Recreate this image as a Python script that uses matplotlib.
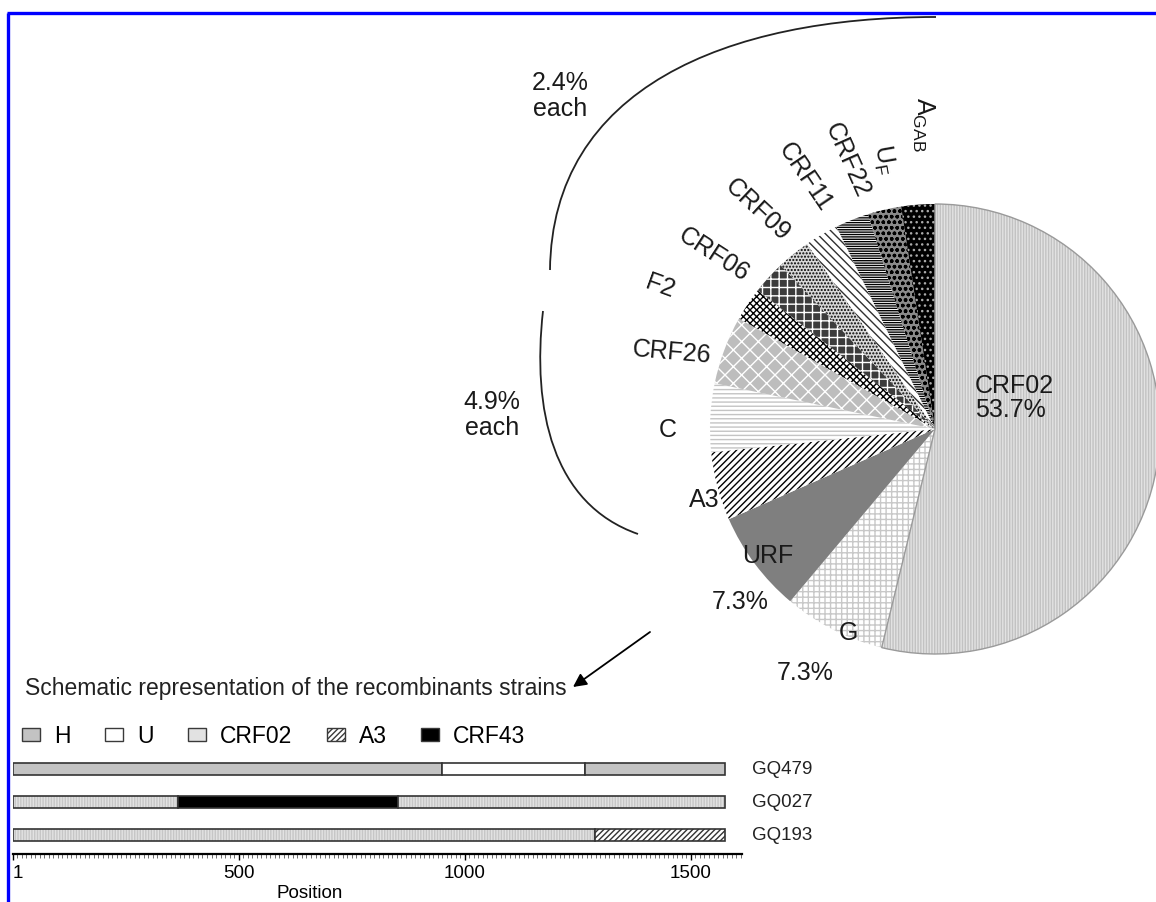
import matplotlib
matplotlib.use("Agg")
import matplotlib.pyplot as plt
from matplotlib.patches import Patch, PathPatch
from matplotlib.path import Path
from matplotlib.ticker import MultipleLocator
import matplotlib.transforms as mtransforms

plt.rcParams['font.family'] = ['Liberation Sans', 'DejaVu Sans']
plt.rcParams['hatch.linewidth'] = 1.0

# ---------------- data ----------------
pie_labels = ['CRF02', 'G', 'URF', 'A3', 'C', 'CRF26', 'F2', 'CRF06',
              'CRF09', 'CRF11', 'CRF22', 'UF', 'AGAB']
pie_values = [53.7, 7.3, 7.3, 4.9, 4.9, 4.9, 2.4, 2.4, 2.4, 2.4, 2.4, 2.4, 2.4]

strains = ['GQ479', 'GQ027', 'GQ193']
gq479_breaks = [1, 950, 1266, 1575]
gq479_types = ['H', 'U', 'H']
gq027_breaks = [1, 366, 852, 1575]
gq027_types = ['CRF02', 'CRF43', 'CRF02']
gq193_breaks = [1, 1288, 1575]
gq193_types = ['CRF02', 'A3']
legend_types = ['H', 'U', 'CRF02', 'A3', 'CRF43']
position_ticks = [1, 500, 1000, 1500]
position_ticklabels = ['1', '500', '1000', '1500']

# ---------------- styles ----------------
pie_face = ['#e2e2e2', 'white', '#7f7f7f', 'white', 'white', '#bdbdbd', 'white',
            '#3c3c3c', '#d8d8d8', 'white', 'white', '#8a8a8a', 'black']
pie_hatchcol = ['#c2c2c2', '#c8c8c8', '#7f7f7f', 'black', '#c4c4c4', 'white', 'black',
                'white', 'black', '#303030', 'black', 'black', '#aaaaaa']
pie_hatch = ['||||||', '+++', None, '/////', '----', 'xx', 'xxxxx',
             '++', '.....', '\\\\\\\\', '-------', 'ooo', '...']

seg_face = {'H': '#c3c3c3', 'U': 'white', 'CRF02': '#e2e2e2', 'A3': 'white', 'CRF43': 'black'}
seg_hcol = {'H': '#c3c3c3', 'U': 'white', 'CRF02': '#c6c6c6', 'A3': '#333333', 'CRF43': 'black'}
seg_hatch = {'H': None, 'U': None, 'CRF02': '||||||', 'A3': '//////', 'CRF43': None}

W, H = 1156, 903
fig = plt.figure(figsize=(W / 100, H / 100), dpi=100)
ax = fig.add_axes([0, 0, 1, 1])


def P(x, y):
    return (x, H - y)


# ---------------- pie ----------------
wedges, _ = ax.pie(pie_values, startangle=90, counterclock=False,
                   center=P(935, 430), radius=225, colors=pie_face,
                   wedgeprops=dict(linewidth=0))
for w, hc, hp in zip(wedges, pie_hatchcol, pie_hatch):
    w.set_edgecolor(hc)
    w.set_linewidth(0)
    if hp:
        w.set_hatch(hp)
# outline for main slice
outl, _ = ax.pie(pie_values, startangle=90, counterclock=False,
                 center=P(935, 430), radius=225,
                 wedgeprops=dict(fill=False, linewidth=0))
outl[0].set_edgecolor('#9a9a9a')
outl[0].set_linewidth(1.0)

ax.set_xlim(0, W)
ax.set_ylim(0, H)
ax.set_aspect('auto')
ax.axis('off')

fs = 18
tc = '#1a1a1a'
ax.text(*P(975, 398), 'CRF02\n53.7%', fontsize=fs, ha='left', va='center',
        linespacing=1.0, color=tc)
ax.text(*P(848, 633), 'G', fontsize=fs, ha='center', va='center', color=tc)
ax.text(*P(805, 673), '7.3%', fontsize=fs, ha='center', va='center', color=tc)
ax.text(*P(768, 556), 'URF', fontsize=fs, ha='center', va='center', color=tc)
ax.text(*P(740, 602), '7.3%', fontsize=fs, ha='center', va='center', color=tc)
ax.text(*P(704, 500), 'A3', fontsize=fs, ha='center', va='center', color=tc)
ax.text(*P(668, 430), 'C', fontsize=fs, ha='center', va='center', color=tc)
ax.text(*P(672, 352), 'CRF26', fontsize=fs, ha='center', va='center', rotation=-5,
        rotation_mode='anchor', color=tc)
ax.text(*P(660, 286), 'F2', fontsize=fs, ha='center', va='center', rotation=-20,
        rotation_mode='anchor', color=tc)
ax.text(*P(714, 255), 'CRF06', fontsize=fs, ha='center', va='center', rotation=-33,
        rotation_mode='anchor', color=tc)
ax.text(*P(757, 210), 'CRF09', fontsize=fs, ha='center', va='center', rotation=-43,
        rotation_mode='anchor', color=tc)
ax.text(*P(805, 177), 'CRF11', fontsize=fs, ha='center', va='center', rotation=-56,
        rotation_mode='anchor', color=tc)
ax.text(*P(847, 160), 'CRF22', fontsize=fs, ha='center', va='center', rotation=-66,
        rotation_mode='anchor', color=tc)
ax.text(*P(884, 160), r'U$_\mathregular{F}$', fontsize=fs, ha='center', va='center',
        rotation=-80, rotation_mode='anchor', color=tc)
ax.text(*P(923, 124), r'A$_\mathregular{GAB}$', fontsize=fs, ha='center', va='center',
        rotation=-90, rotation_mode='anchor', color=tc)

ax.text(*P(560, 96), '2.4%\neach', fontsize=fs, ha='center', va='center',
        linespacing=1.15, color=tc)
ax.text(*P(492, 415), '4.9%\neach', fontsize=fs, ha='center', va='center',
        linespacing=1.15, color=tc)

# brackets
arc1 = Path([P(936, 18), P(725, 18), P(552, 90), P(550, 271)],
            [Path.MOVETO, Path.CURVE4, Path.CURVE4, Path.CURVE4])
ax.add_patch(PathPatch(arc1, fill=False, lw=1.3, edgecolor='#222222'))
arc2 = Path([P(543, 312), P(532, 410), P(552, 505), P(638, 535)],
            [Path.MOVETO, Path.CURVE4, Path.CURVE4, Path.CURVE4])
ax.add_patch(PathPatch(arc2, fill=False, lw=1.3, edgecolor='#222222'))

# arrow
ax.annotate('', xy=P(573, 688), xytext=P(650, 633),
            arrowprops=dict(arrowstyle='-|>', color='black', lw=1.3,
                            mutation_scale=20, shrinkA=0, shrinkB=0))

ax.text(*P(25, 688), 'Schematic representation of the recombinants strains',
        fontsize=16.5, ha='left', va='center', color='#222222')

# blue frame
ax.plot([7, W], [H - 14, H - 14], color='#0000ff', lw=2.4, solid_capstyle='butt')
ax.plot([8, 8], [H - 14, 0], color='#0000ff', lw=2.4, solid_capstyle='butt')

# ---------------- bars ----------------
bax = fig.add_axes([13 / W, (H - 855) / H, (742 - 13) / W, (855 - 755) / H])
bax.set_xlim(1, 1613)
bax.set_ylim(-0.576, 2.45)

rows = [(gq479_breaks, gq479_types), (gq027_breaks, gq027_types), (gq193_breaks, gq193_types)]
bh = 0.36
for i, (breaks, types) in enumerate(rows):
    y = len(rows) - 1 - i
    for s, e, t in zip(breaks[:-1], breaks[1:], types):
        bax.barh(y, e - s, left=s, height=bh, color=seg_face[t],
                 edgecolor=seg_hcol[t], linewidth=0, hatch=seg_hatch[t])
        bax.barh(y, e - s, left=s, height=bh, fill=False,
                 edgecolor='#333333', linewidth=1.2)
    bax.text(1.0 + (752 - 742) / (742 - 13), y, strains[i], fontsize=13.5,
             va='center', ha='left', color='#222222',
             transform=mtransforms.blended_transform_factory(bax.transAxes, bax.transData))

for side in ['top', 'right', 'left']:
    bax.spines[side].set_visible(False)
bax.spines['bottom'].set_linewidth(1.6)
bax.set_yticks([])
bax.set_xticks(position_ticks)
bax.set_xticklabels(position_ticklabels, fontsize=13.5)
bax.get_xticklabels()[0].set_horizontalalignment('left')
bax.xaxis.set_minor_locator(MultipleLocator(10))
bax.tick_params(axis='x', which='major', length=4.5, width=1.0, pad=2.5)
bax.tick_params(axis='x', which='minor', length=3, width=0.6, color='#555555')
bax.set_xlabel('Position', fontsize=13.5)
bax.xaxis.set_label_coords((310 - 13) / (742 - 13), -0.30)
bax.patch.set_alpha(0)

handles = []
for t in legend_types:
    handles.append(Patch(facecolor=seg_face[t], edgecolor='#3a3a3a', linewidth=1.0,
                         hatch=('//////' if t == 'A3' else None)))
fig.legend(handles, legend_types, ncol=5, loc='center left',
           bbox_to_anchor=(22 / W, (H - 737) / H), frameon=False, fontsize=16.5,
           handlelength=0.8, handleheight=0.5, handletextpad=0.6,
           columnspacing=1.5, borderpad=0, borderaxespad=0)

fig.savefig('out.png', dpi=100)
